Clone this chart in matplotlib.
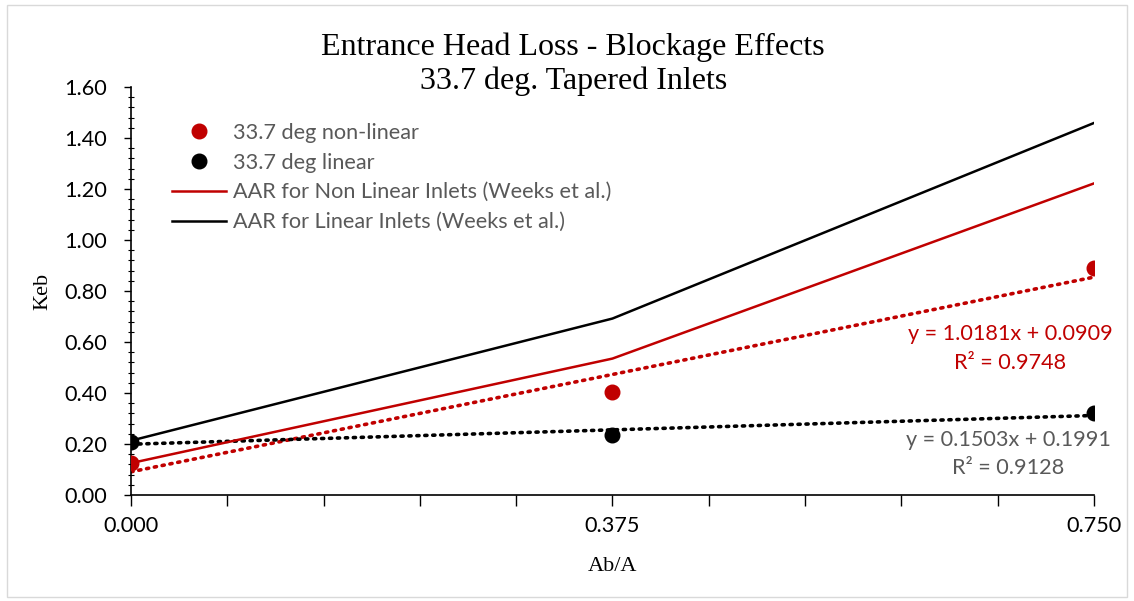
import matplotlib
matplotlib.use("Agg")
import matplotlib.pyplot as plt
from matplotlib.patches import Rectangle
from matplotlib.ticker import MultipleLocator, FormatStrFormatter
import numpy as np

# Blockage ratio (Ab/A)
blockage = [0.0, 0.375, 0.75]

# Measured entrance loss coefficients
keb_nonlinear = [0.126, 0.402, 0.890]
keb_linear = [0.209, 0.235, 0.322]

# AAR reference curves (Weeks et al.)
aar_nonlinear = [0.125, 0.535, 1.222]
aar_linear = [0.213, 0.692, 1.459]

# Linear trendline coefficients (slope, intercept, R^2)
fit_nonlinear = (1.0181, 0.0909, 0.9748)
fit_linear = (0.1503, 0.1991, 0.9128)

RED = "#C00000"
GRAY = "#595959"
SANS = ["Lato", "DejaVu Sans"]
SERIF = ["Liberation Serif", "DejaVu Serif"]
FS = 15.6

fig = plt.figure(figsize=(11.34, 6.01), dpi=100)
fig.patches.append(Rectangle((0.006, 0.007), 0.988, 0.985, transform=fig.transFigure,
                             fill=False, edgecolor="#d9d9d9", linewidth=1.0))
ax = fig.add_axes([0.1155, 0.1764, 0.8492, 0.6788])

x = np.array(blockage)

# Trendlines
for (m, b, _), col in ((fit_nonlinear, RED), (fit_linear, "black")):
    ax.plot(x, m * x + b, linestyle=(0, (0.6, 1.6)), dash_capstyle="round",
            color=col, linewidth=2.6, zorder=2)

# AAR curves
ax.plot(blockage, aar_nonlinear, color=RED, linewidth=1.8, zorder=3,
        label="AAR for Non Linear Inlets (Weeks et al.)")
ax.plot(blockage, aar_linear, color="black", linewidth=1.8, zorder=3,
        label="AAR for Linear Inlets (Weeks et al.)")

# Measured points
ax.plot(blockage, keb_nonlinear, "o", color=RED, markersize=10.5, zorder=4,
        label="33.7 deg non-linear")
ax.plot(blockage, keb_linear, "o", color="black", markersize=10.5, zorder=4,
        label="33.7 deg linear")

ax.set_xlim(0, 0.75)
ax.set_ylim(0, 1.6)
ax.xaxis.set_major_locator(MultipleLocator(0.375))
ax.xaxis.set_minor_locator(MultipleLocator(0.075))
ax.yaxis.set_major_locator(MultipleLocator(0.2))
ax.yaxis.set_minor_locator(MultipleLocator(0.04))
ax.xaxis.set_major_formatter(FormatStrFormatter("%.3f"))
ax.yaxis.set_major_formatter(FormatStrFormatter("%.2f"))

for s in ("top", "right"):
    ax.spines[s].set_visible(False)
for s in ("left", "bottom"):
    ax.spines[s].set_linewidth(1.2)
    ax.spines[s].set_color("black")

ax.tick_params(axis="x", which="both", direction="out", length=8, width=1.0, pad=7)
ax.tick_params(axis="y", which="major", direction="out", length=5, width=1.0, pad=12)
ax.tick_params(axis="y", which="minor", direction="inout", length=5, width=0.8)
for lbl in ax.get_xticklabels() + ax.get_yticklabels():
    lbl.set_fontfamily(SANS)
    lbl.set_fontsize(FS)

ax.set_xlabel("Ab/A", family=SERIF, fontsize=16, labelpad=15)
ax.set_ylabel("Keb", family=SERIF, fontsize=16, labelpad=9)

fig.text(0.5055, 0.8935, "Entrance Head Loss - Blockage Effects\n33.7 deg. Tapered Inlets",
         ha="center", va="center", family=SERIF, fontsize=23, linespacing=1.2)

handles, labels = ax.get_legend_handles_labels()
order = [2, 3, 0, 1]
leg = ax.legend([handles[i] for i in order], [labels[i] for i in order],
                loc="upper left", bbox_to_anchor=(0.022, 0.96), frameon=False,
                prop={"family": SANS, "size": FS}, handlelength=2.5,
                handletextpad=0.35, labelspacing=0.45)
for t in leg.get_texts():
    t.set_color(GRAY)

# Trendline equations
def eqn(fit, xy, col):
    m, b, r2 = fit
    ax.annotate(f"y = {m:.4f}x + {b:.4f}\nR² = {r2:.4f}", xy=xy,
                xycoords="axes fraction", ha="center", va="center",
                family=SANS, fontsize=FS, color=col, linespacing=1.55)

eqn(fit_nonlinear, (0.913, 0.359), RED)
eqn(fit_linear, (0.911, 0.1005), GRAY)

fig.savefig("out.png", dpi=100)
